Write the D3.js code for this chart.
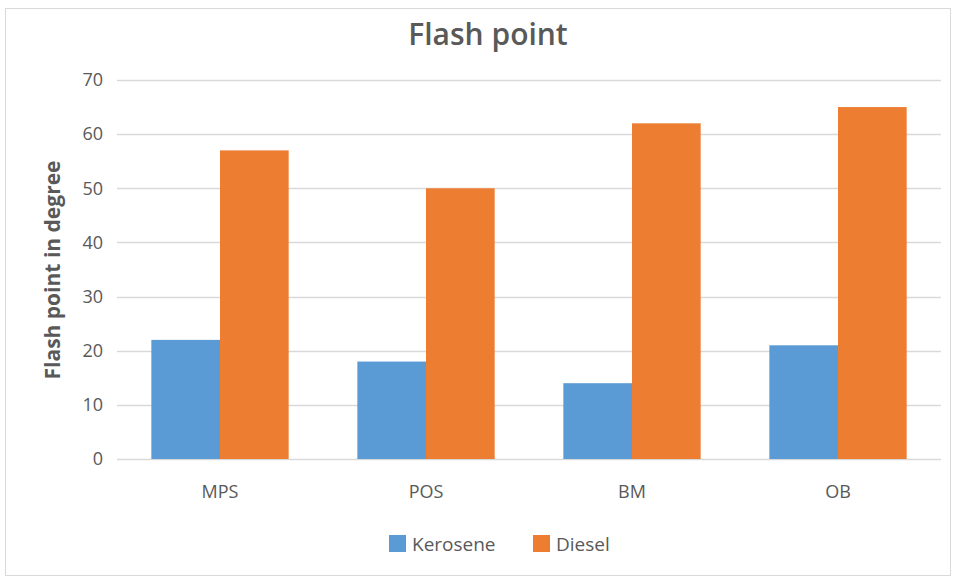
<!DOCTYPE html>
<html>
<head>
<meta charset="utf-8">
<script src="https://d3js.org/d3.v7.min.js"></script>
<style>
body { margin: 0; background: #fff; }
text { font-family: "Open Sans", sans-serif; fill: #595959; }
</style>
</head>
<body>
<svg id="chart"></svg>
<script>
// data
var categories = ["MPS", "POS", "BM", "OB"];
var seriesNames = ["Kerosene", "Diesel"];
var kerosene = [22, 18, 14, 21];
var diesel = [57, 50, 62, 65];
var yTicks = [0, 10, 20, 30, 40, 50, 60, 70];
var colors = ["#5B9BD5", "#ED7D31"];

var W = 956, H = 579;
var plotLeft = 117, plotRight = 941, plotTop = 80, plotBottom = 459;

var svg = d3.select("#chart").attr("width", W).attr("height", H);

// outer border
svg.append("rect")
    .attr("x", 5.5).attr("y", 8.5)
    .attr("width", 945).attr("height", 567)
    .attr("fill", "#fff")
    .attr("stroke", "#d9d9d9");

var x = d3.scaleBand().domain(categories).range([plotLeft, plotRight]).paddingInner(1/3).paddingOuter(1/6);
var xs = d3.scaleBand().domain(seriesNames).range([0, x.bandwidth()]);
var y = d3.scaleLinear().domain([0, 70]).range([plotBottom, plotTop]);

// gridlines
svg.append("g")
    .selectAll("line")
    .data(yTicks)
    .enter().append("line")
    .attr("x1", plotLeft).attr("x2", plotRight)
    .attr("y1", function(d) { return Math.round(y(d)) + 0.5; })
    .attr("y2", function(d) { return Math.round(y(d)) + 0.5; })
    .attr("stroke", "#d9d9d9")
    .attr("stroke-width", 1.5);

// y axis labels
var yAxis = svg.append("g")
    .attr("transform", "translate(" + plotLeft + ",0)")
    .call(d3.axisLeft(y).tickValues(yTicks).tickSize(0).tickPadding(14));
yAxis.select(".domain").remove();
yAxis.selectAll("text").style("font-size", "18px").attr("fill", "#595959");

// bars
var rows = categories.map(function(c, i) { return { cat: c, vals: [kerosene[i], diesel[i]] }; });
var groups = svg.append("g")
    .selectAll("g")
    .data(rows)
    .enter().append("g")
    .attr("transform", function(d) { return "translate(" + x(d.cat) + ",0)"; });

groups.selectAll("rect")
    .data(function(d) { return d.vals.map(function(v, j) { return { name: seriesNames[j], v: v, j: j }; }); })
    .enter().append("rect")
    .attr("x", function(d) { return xs(d.name); })
    .attr("width", xs.bandwidth())
    .attr("y", function(d) { return y(d.v); })
    .attr("height", function(d) { return y(0) - y(d.v); })
    .attr("fill", function(d) { return colors[d.j]; });

// x axis labels
var xAxis = svg.append("g")
    .attr("transform", "translate(0," + plotBottom + ")")
    .call(d3.axisBottom(x).tickSize(0).tickPadding(26));
xAxis.select(".domain").remove();
xAxis.selectAll("text").style("font-size", "18px").attr("fill", "#595959");

// title
svg.append("text")
    .attr("x", 488).attr("y", 45)
    .attr("text-anchor", "middle")
    .style("font-size", "30px")
    .style("font-weight", "600")
    .text("Flash point");

// y axis title
svg.append("text")
    .attr("transform", "translate(53,270) rotate(-90)")
    .attr("dy", "0.35em")
    .attr("text-anchor", "middle")
    .style("font-size", "21px")
    .style("font-weight", "bold")
    .text("Flash point in degree");

// legend
var legendX = [389, 533];
var legend = svg.append("g")
    .selectAll("g")
    .data(seriesNames)
    .enter().append("g")
    .attr("transform", function(d, i) { return "translate(" + legendX[i] + ",535)"; });
legend.append("rect")
    .attr("width", 17).attr("height", 17)
    .attr("fill", function(d, i) { return colors[i]; });
legend.append("text")
    .attr("x", 23).attr("y", 9)
    .attr("dy", "0.35em")
    .style("font-size", "19px")
    .text(function(d) { return d; });
</script>
</body>
</html>
